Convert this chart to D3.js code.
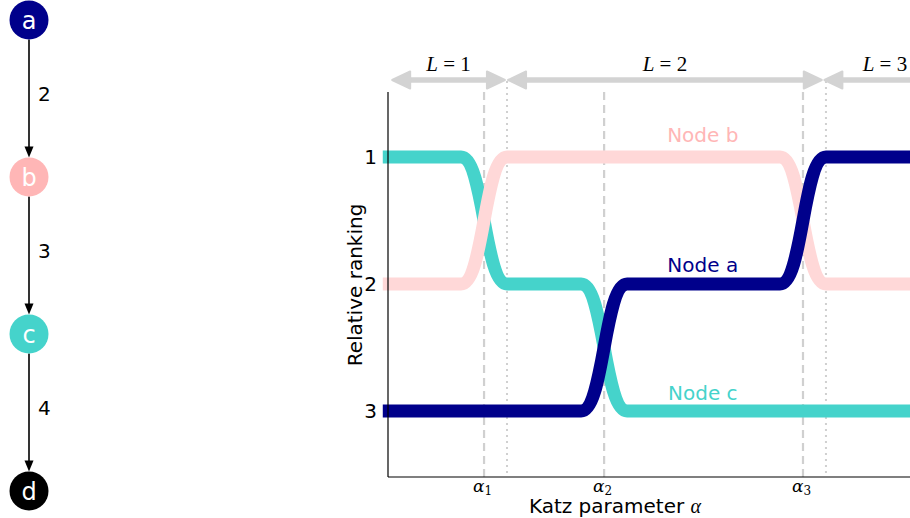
<!DOCTYPE html>
<html>
<head>
<meta charset="utf-8">
<script src="https://cdn.jsdelivr.net/npm/d3@7"></script>
<style>
  html, body { margin: 0; padding: 0; background: #fff; }
  svg { display: block; font-family: "DejaVu Sans", sans-serif; }
  .math { font-family: "Liberation Serif", "DejaVu Serif", serif; font-style: italic; }
  .tickmath { font-family: "DejaVu Serif", serif; font-style: italic; }
</style>
</head>
<body>
<svg id="chart" width="910" height="518"></svg>
<script>
// ---- data ----
// small chain graph a -> b -> c -> d with edge weights
const graphNodes = ["a", "b", "c", "d"];
const graphEdges = [
  { source: "a", target: "b", weight: 2 },
  { source: "b", target: "c", weight: 3 },
  { source: "c", target: "d", weight: 4 }
];
const nodeColors = { a: "#00008b", b: "#ffb6b6", c: "#45d3cb", d: "#000000" };
const lineColors = { a: "#00008b", b: "#ffd8d8", c: "#45d3cb" };

// Katz parameter range (arbitrary units) and the critical values alpha_1..3
const xDomain = [0, 100];
const alphaCrit = [18.4, 41.4, 79.5];
const alphaTickLabels = ["1", "2", "3"];
// walk-length horizon boundaries (dotted lines)
const lBounds = [22.8, 83.9];
const lSpans = [
  { label: "1", from: 0.8, to: 22.4 },
  { label: "2", from: 23.0, to: 83.1 },
  { label: "3", from: 83.6, to: 106.8 }
];

// ranking of each node on the intervals separated by alphaCrit
const rankIntervals = {
  c: [1, 2, 3, 3],
  b: [2, 1, 1, 2],
  a: [3, 3, 2, 1]
};
const rankTicks = [1, 2, 3];
const xStart = -1.0;
const xEnd = 100;
const seriesLabels = [
  { node: "b", text: "Node b", x: 60.3, rank: 0.83 },
  { node: "a", text: "Node a", x: 60.3, rank: 1.85 },
  { node: "c", text: "Node c", x: 60.3, rank: 2.86 }
];

// ---- layout ----
const svg = d3.select("#chart");
const x = d3.scaleLinear().domain(xDomain).range([388, 910]);
const y = d3.scaleLinear().domain([1, 3]).range([157, 411]);
const axTop = 92, axBottom = 477;
const halfWidth = 4.4; // half the width of a rank swap, in x units

// ---- graph panel ----
const gy = d3.scalePoint().domain(graphNodes).range([20, 491]);
const gx = 29, r = 19.5;
const graph = svg.append("g");
graphEdges.forEach(e => {
  const y0 = gy(e.source) + r, y1 = gy(e.target) - r;
  graph.append("line")
    .attr("x1", gx).attr("x2", gx)
    .attr("y1", y0).attr("y2", y1 - 8)
    .attr("stroke", "#000").attr("stroke-width", 1.6);
  graph.append("path")
    .attr("d", `M${gx - 4.5},${y1 - 11} L${gx + 4.5},${y1 - 11} L${gx},${y1} Z`)
    .attr("fill", "#000");
  graph.append("text")
    .attr("x", 38).attr("y", (y0 + y1) / 2 + 2)
    .attr("font-size", 20).attr("fill", "#000")
    .text(e.weight);
});
graph.selectAll("circle").data(graphNodes).join("circle")
  .attr("cx", gx).attr("cy", d => gy(d)).attr("r", r)
  .attr("fill", d => nodeColors[d]);
graph.selectAll("text.nl").data(graphNodes).join("text")
  .attr("class", "nl")
  .attr("x", gx).attr("y", d => gy(d) + 8.5)
  .attr("text-anchor", "middle")
  .attr("font-size", 24).attr("fill", "#fff")
  .text(d => d);

// ---- reference lines ----
svg.selectAll("line.crit").data(alphaCrit).join("line")
  .attr("class", "crit")
  .attr("x1", d => x(d)).attr("x2", d => x(d))
  .attr("y1", axTop).attr("y2", axBottom)
  .attr("stroke", "#d0d0d0").attr("stroke-width", 2.2)
  .attr("stroke-dasharray", "8,5");
svg.selectAll("line.lb").data(lBounds).join("line")
  .attr("class", "lb")
  .attr("x1", d => x(d)).attr("x2", d => x(d))
  .attr("y1", 81).attr("y2", axBottom)
  .attr("stroke", "#d0d0d0").attr("stroke-width", 2)
  .attr("stroke-dasharray", "2,4");

// ---- ranking curves ----
function curvePoints(ranks) {
  const pts = [[xStart, ranks[0]]];
  alphaCrit.forEach((a, i) => {
    if (ranks[i] !== ranks[i + 1]) {
      pts.push([a - halfWidth, ranks[i]]);
      pts.push([a + halfWidth, ranks[i + 1]]);
    }
  });
  pts.push([xEnd, ranks[ranks.length - 1]]);
  return pts;
}
const line = d3.line().x(d => x(d[0])).y(d => y(d[1])).curve(d3.curveBumpX);
["c", "b", "a"].forEach(n => {
  svg.append("path")
    .attr("d", line(curvePoints(rankIntervals[n])))
    .attr("fill", "none")
    .attr("stroke", lineColors[n])
    .attr("stroke-width", 13)
    .attr("stroke-linejoin", "round");
});

svg.selectAll("text.sl").data(seriesLabels).join("text")
  .attr("class", "sl")
  .attr("x", d => x(d.x)).attr("y", d => y(d.rank) + 7)
  .attr("text-anchor", "middle")
  .attr("font-size", 20)
  .attr("fill", d => nodeColors[d.node])
  .text(d => d.text);

// ---- horizon arrows ----
const arrowY = 80;
const ag = svg.append("g");
lSpans.forEach(s => {
  const x0 = x(s.from), x1 = x(s.to);
  const head = 18, hw = 8.5;
  ag.append("line")
    .attr("x1", x0 + head - 2).attr("x2", x1 - head + 2)
    .attr("y1", arrowY).attr("y2", arrowY)
    .attr("stroke", "#d3d3d3").attr("stroke-width", 5.5);
  ag.append("path")
    .attr("d", `M${x0},${arrowY} L${x0 + head},${arrowY - hw} L${x0 + head},${arrowY + hw} Z`)
    .attr("fill", "#d3d3d3").attr("stroke", "#d3d3d3")
    .attr("stroke-width", 2).attr("stroke-linejoin", "round");
  ag.append("path")
    .attr("d", `M${x1},${arrowY} L${x1 - head},${arrowY - hw} L${x1 - head},${arrowY + hw} Z`)
    .attr("fill", "#d3d3d3").attr("stroke", "#d3d3d3")
    .attr("stroke-width", 2).attr("stroke-linejoin", "round");
  const t = ag.append("text")
    .attr("x", (x0 + x1) / 2).attr("y", 71)
    .attr("text-anchor", "middle")
    .attr("font-size", 21);
  t.append("tspan").attr("class", "math").text("L");
  t.append("tspan").attr("font-family", "Liberation Serif, serif").text(" = " + s.label);
});

// ---- axes ----
svg.append("line")
  .attr("x1", x(0)).attr("x2", x(0)).attr("y1", axTop).attr("y2", axBottom)
  .attr("stroke", "#000").attr("stroke-width", 1.2);
svg.append("line")
  .attr("x1", x(0)).attr("x2", 910).attr("y1", axBottom).attr("y2", axBottom)
  .attr("stroke", "#000").attr("stroke-width", 1.2);

svg.selectAll("text.yt").data(rankTicks).join("text")
  .attr("class", "yt")
  .attr("x", 377).attr("y", d => y(d) + 7)
  .attr("text-anchor", "end").attr("font-size", 20)
  .text(d => d);

alphaCrit.forEach((a, i) => {
  const t = svg.append("text")
    .attr("x", x(a) - 11).attr("y", 492)
    .attr("text-anchor", "start").attr("font-size", 17)
    .attr("class", "tickmath");
  t.append("tspan").text("α");
  t.append("tspan").attr("font-size", 12).attr("dy", 3)
    .attr("font-style", "normal").text(alphaTickLabels[i]);
});

svg.append("text")
  .attr("transform", "translate(362,285) rotate(-90)")
  .attr("text-anchor", "middle").attr("font-size", 20)
  .text("Relative ranking");

const xl = svg.append("text")
  .attr("x", 615).attr("y", 513)
  .attr("text-anchor", "middle").attr("font-size", 20);
xl.append("tspan").text("Katz parameter ");
xl.append("tspan").attr("class", "math").text("α");
</script>
</body>
</html>
